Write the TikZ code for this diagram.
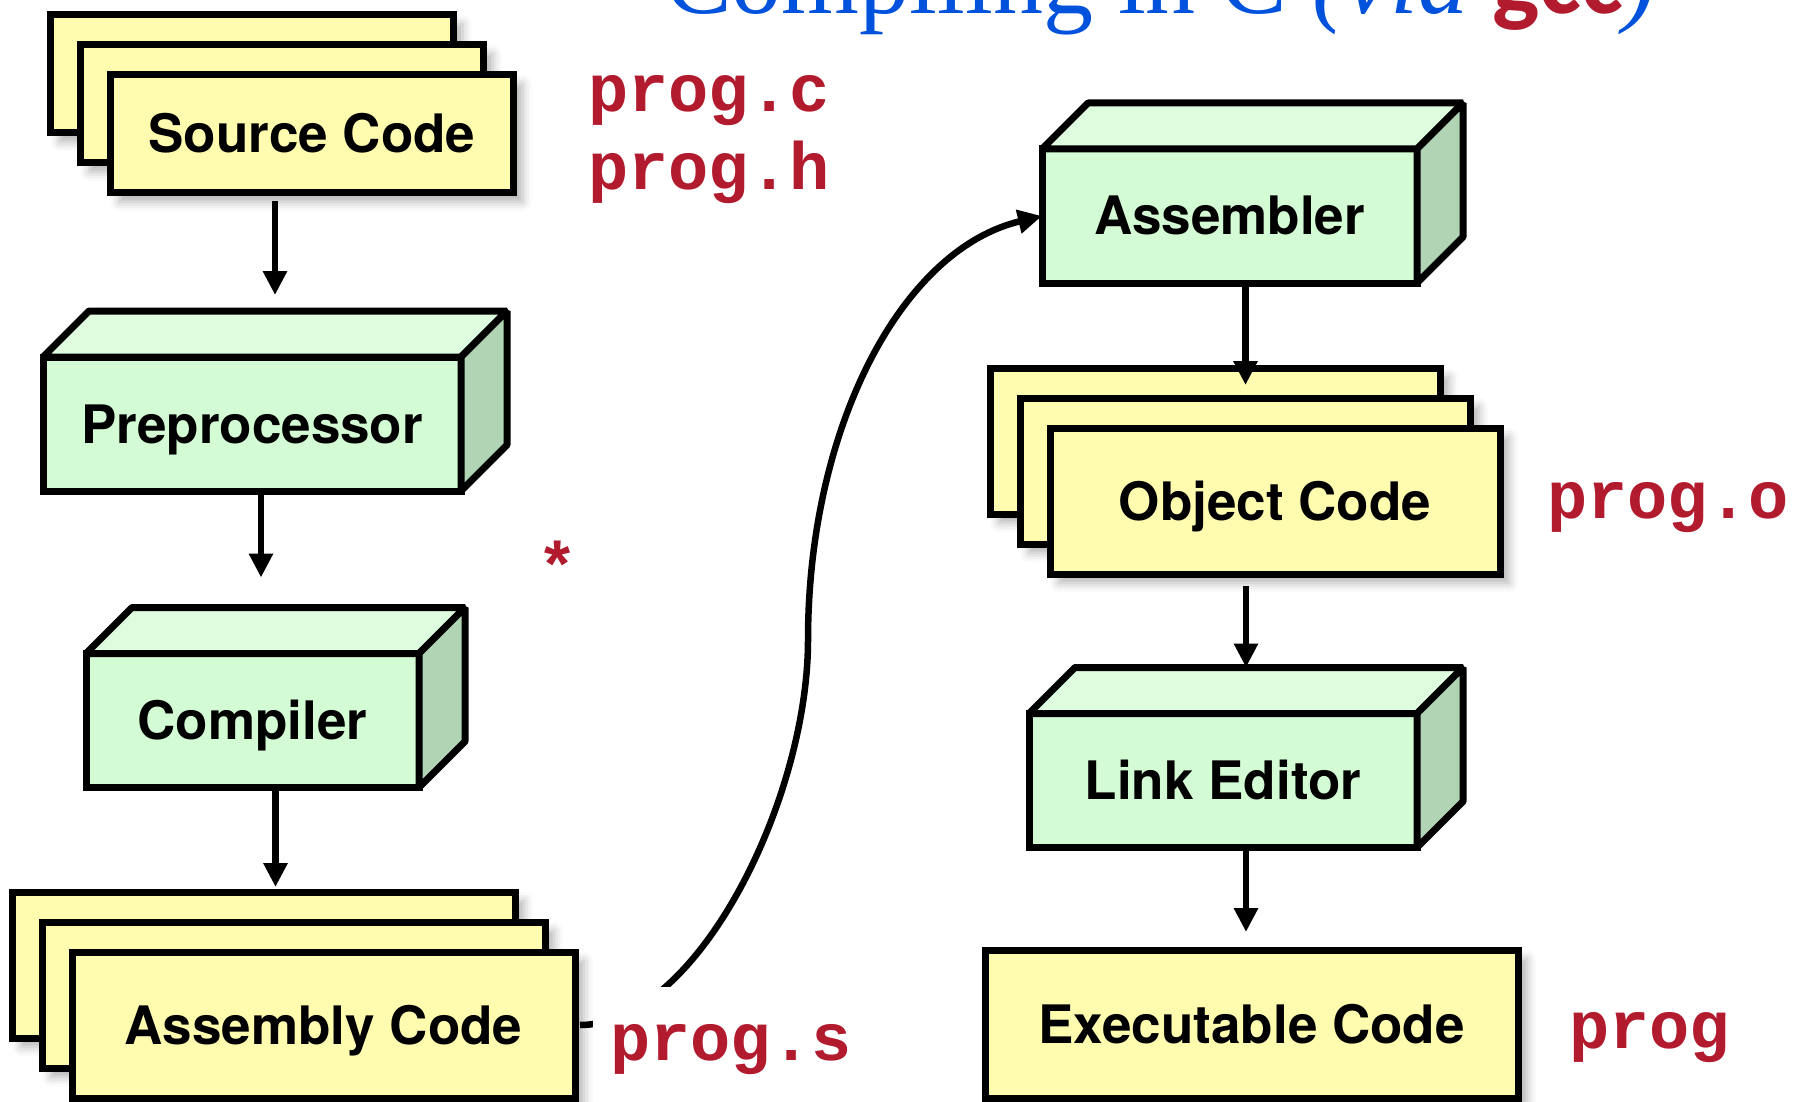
\documentclass[tikz,border=0pt]{standalone}
\usepackage{fontspec}
\setmainfont{TeX Gyre Heros}
\newfontfamily\codefont{Liberation Mono}
\newfontfamily\titlefont{Liberation Serif}
\newfontfamily\gccfont{Carlito}
\usetikzlibrary{positioning, arrows.meta, shadows.blur}

\definecolor{paper}{RGB}{255,252,176}
\definecolor{mint}{RGB}{212,252,212}
\definecolor{minttop}{RGB}{222,252,222}
\definecolor{mintside}{RGB}{176,212,180}
\definecolor{fnred}{RGB}{178,26,46}
\definecolor{titleblue}{RGB}{0,82,220}

\newcommand{\boxfont}{\fontsize{53}{60}\selectfont\bfseries}

\tikzset{
x=1pt, y=-1pt, % one unit is one pixel of the slide, y grows downward
>={Triangle[length=24pt, width=23pt]}, % big solid arrow heads
flow/.style={->, line width=6.5pt}, % the arrows between the steps
sheet/.style={draw, line width=7pt, fill=paper, outer sep=0pt, font=\boxfont, text height=38pt, text depth=0pt,
  blur shadow={shadow xshift=9pt, shadow yshift=-9pt, shadow blur radius=9pt, shadow opacity=30}}, % one page of a file
tool/.style={draw, line width=7pt, fill=mint, outer sep=0pt, minimum height=134pt, font=\boxfont, text height=38pt, text depth=0pt}, % front of a tool block
topface/.style={draw, line width=7pt, line join=bevel, fill=minttop},
sideface/.style={draw, line width=7pt, line join=bevel, fill=mintside},
filename/.style={anchor=base west, inner sep=0pt, text=fnred, font=\codefont\bfseries\fontsize{67}{70}\selectfont},
}

% three stacked pages, the front one gets the name and the text
\newcommand{\filestack}[4]{%
  \node[sheet, #3] (#1-3) at ([shift={(-60,-60)}]#2) {};
  \node[sheet, #3] (#1-2) at ([shift={(-30,-30)}]#2) {};
  \node[sheet, #3] (#1) at (#2) {#4};
}
% top and side faces of a tool block, plus the middle of its back edge
\newcommand{\toolfaces}[1]{%
  \draw[topface] (#1.north west) -- ++(46,-46) -- ([shift={(46,-46)}]#1.north east) -- (#1.north east) -- cycle;
  \draw[sideface] (#1.north east) -- ([shift={(46,-46)}]#1.north east) -- ([shift={(46,-46)}]#1.south east) -- (#1.south east) -- cycle;
  \coordinate (#1 top) at ([shift={(23,-46)}]#1.north);
}

\begin{document}
\begin{tikzpicture}
\useasboundingbox (0,0) rectangle (1794,1102);
\clip (0,0) rectangle (1794,1102);

% title, only its lower part is on the page
\node[anchor=base west, inner sep=0pt, text=titleblue, font=\titlefont\fontsize{100}{100}\selectfont] (title) at (665,14)
  {Compiling in C \textit{(via }{\gccfont\bfseries\color{fnred}gcc}\textit{)}};

% left column
\filestack{src}{312,134}{minimum width=403pt, minimum height=118pt}{Source Code}
\node[tool, minimum width=418pt] (pre) at (252,424) {Preprocessor};
\toolfaces{pre}
\node[tool, minimum width=333pt] (comp) at (252.5,720.5) {Compiler};
\toolfaces{comp}
\filestack{asm}{323.5,1025}{minimum width=503pt, minimum height=146pt}{Assembly Code}

% right column
\node[tool, minimum width=375pt] (as) at (1229.5,216) {Assembler};
\toolfaces{as}
\filestack{obj}{1275,501}{minimum width=450pt, minimum height=146pt}{Object Code}
\node[tool, minimum width=388pt] (ld) at (1223,780.5) {Link Editor};
\toolfaces{ld}
\node[sheet, minimum width=533pt, minimum height=148pt] (exe) at (1251.5,1024) {Executable Code};

% arrows
\draw[flow, shorten <=8pt, shorten >=16pt] (src.south -| pre top) -- (pre top);
\draw[flow, shorten >=30pt] ([xshift=9pt]pre.south) -- ([xshift=9pt]pre.south |- comp top);
\draw[flow, shorten >=5pt] (comp.south -| comp top) -- (comp top |- asm-3.north);
\draw[flow, shorten <=5pt] (asm.east) .. controls +(122,0) and (808,800) .. (808,640) .. controls (808,430) and (900,250) .. (as.west);
\draw[flow, shorten >=-17pt] ([xshift=16pt]as.south) -- ([xshift=16pt]as.south |- obj-3.north);
\draw[flow, shorten <=12pt] (obj.south -| ld top) -- (ld top);
\draw[flow, shorten >=18pt] (ld.south -| ld top) -- (ld top |- exe.north);

% file names
\node[filename] (progc) at (588,112) {prog.c};
\node[filename] (progh) at (588,190) {prog.h};
\node[filename] (star) at (537,589) {*};
\node[filename, fill=white, inner xsep=17pt, text height=73pt, text depth=20pt] (progs) at (593,1060) {prog.s};
\node[filename] (progo) at (1547,518) {prog.o};
\node[filename] (prog) at (1569,1048) {prog};
\end{tikzpicture}
\end{document}
